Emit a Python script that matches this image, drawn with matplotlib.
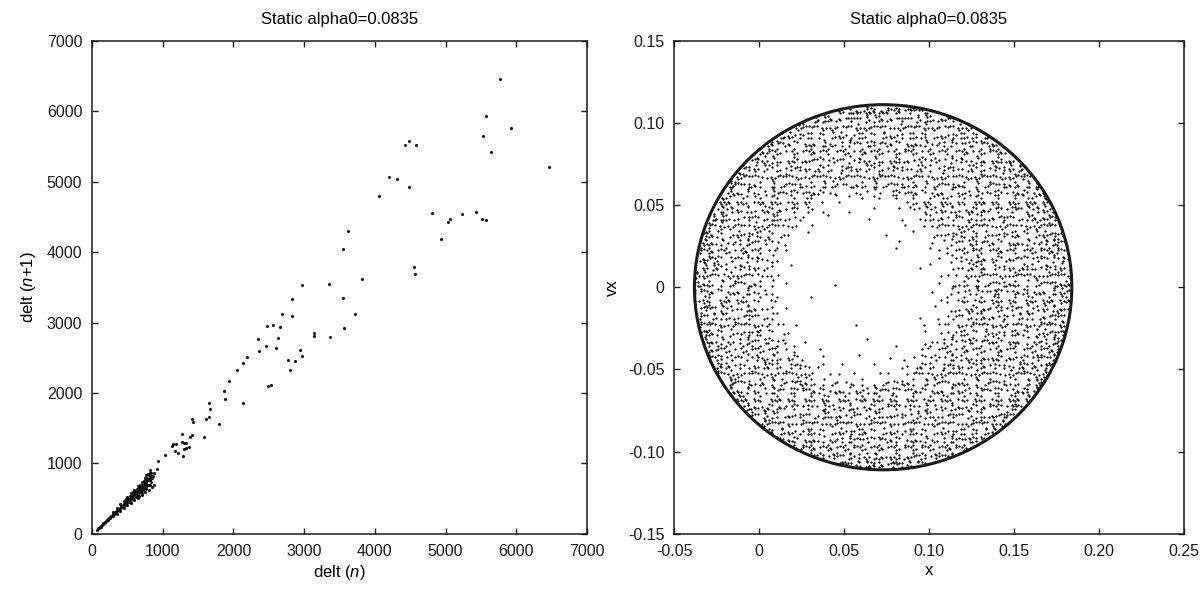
import numpy as np
import matplotlib
matplotlib.use("Agg")
import matplotlib.pyplot as plt
from matplotlib.patches import Circle

plt.rcParams['font.family'] = ['Liberation Sans', 'DejaVu Sans']
plt.rcParams['mathtext.fontset'] = 'custom'
plt.rcParams['mathtext.rm'] = 'Liberation Sans'
plt.rcParams['mathtext.it'] = 'Liberation Sans:italic'

TITLE = "Static alpha0=0.0835"

# ---------------- return map: delt(n+1) against delt(n) ----------------
# dense fan of short intervals near the origin
fan_n = [70, 95, 120, 140, 160, 180, 200, 220, 240, 260, 280, 300, 320, 340, 360,
         380, 400, 410, 430, 450, 460, 480, 500, 510, 530, 550, 560, 580, 600, 610,
         630, 650, 660, 680, 700, 710, 730, 750, 760, 780, 800, 820, 840,
         300, 350, 400, 450, 500, 550, 600, 650, 700, 750, 800, 850, 870,
         300, 350, 400, 450, 500, 550, 600, 650, 700, 750, 800, 830,
         420, 470, 520, 570, 620, 670, 720, 770, 820, 480, 530, 580, 630, 680, 730,
         780, 540, 590, 640, 690, 740, 790, 840, 660, 710, 760, 810, 720, 770, 820,
         860, 790, 760, 850, 820, 880,
         90, 110, 130, 150, 170, 190, 210, 230, 250, 270, 290, 310, 330, 350, 370,
         390, 420, 440, 470, 490, 520, 540, 570, 590, 620, 640, 670, 690,
         590, 640, 690, 740, 790, 560, 610, 660, 710, 760]
fan_n1 = [60, 85, 105, 130, 150, 165, 185, 200, 225, 240, 255, 280, 295, 310, 335,
          350, 365, 390, 400, 420, 440, 450, 470, 495, 500, 520, 545, 550, 570, 600,
          600, 620, 650, 650, 670, 700, 700, 720, 750, 760, 780, 800, 820,
          250, 290, 330, 370, 410, 440, 480, 510, 550, 590, 620, 660, 700,
          310, 365, 420, 470, 525, 580, 630, 685, 740, 790, 840, 870,
          380, 410, 450, 500, 530, 580, 620, 660, 700, 490, 540, 590, 640, 700, 750,
          800, 470, 520, 560, 610, 650, 700, 740, 540, 580, 640, 690, 690, 720, 760,
          820, 850, 830, 800, 860, 860,
          80, 100, 120, 140, 155, 175, 195, 215, 230, 250, 270, 285, 305, 325, 340,
          360, 385, 410, 430, 455, 480, 500, 525, 545, 570, 595, 615, 640,
          580, 610, 680, 700, 760, 500, 540, 600, 640, 690]

# scattered long intervals
spread_n = [4200, 4308, 4054, 3625, 3554, 3813, 3347, 2970, 3554, 2833, 3719, 2692,
            2824, 2479, 2554, 2663, 3558, 3139, 3135, 3370, 2343, 2626, 2456, 2606,
            2357, 2946, 2970, 2196, 2131, 2772, 2871, 2804, 2046, 1941, 2489, 2536,
            1867, 1885, 2135, 1650, 1673, 1418, 1432, 1612, 1659, 1796,
            5769, 5567, 5925, 5524, 4482, 4430, 4586, 5638, 6458, 4478, 4808, 5232,
            5430, 5029, 5058, 5515, 5567, 4931, 4558, 4563,
            1584, 1273, 1145, 1183, 1127, 1277, 1301, 1329, 1390, 1414, 1174, 1220,
            1287, 1296, 1324, 1376, 1037, 933, 919, 825]
spread_n1 = [5062, 5033, 4801, 4295, 4049, 3614, 3543, 3538, 3345, 3335, 3122, 3122,
             3089, 2947, 2966, 2942, 2923, 2848, 2810, 2800, 2762, 2777, 2663, 2639,
             2597, 2611, 2526, 2512, 2431, 2469, 2455, 2323, 2323, 2171, 2104, 2110,
             2025, 1916, 1855, 1863, 1770, 1636, 1594, 1636, 1656, 1565,
             6456, 5936, 5766, 5643, 5577, 5524, 5516, 5421, 5212, 4928, 4551, 4545,
             4574, 4423, 4466, 4466, 4460, 4190, 3793, 3689,
             1381, 1419, 1277, 1277, 1253, 1310, 1287, 1296, 1372, 1405, 1182, 1145,
             1111, 1206, 1216, 1239, 1117, 1036, 922, 908]

left_ticks = [0, 1000, 2000, 3000, 4000, 5000, 6000, 7000]
left_ticklabels = ["0", "1000", "2000", "3000", "4000", "5000", "6000", "7000"]

# ---------------- phase plane: vx against x ----------------
disk_center = (0.073, 0.0)
disk_radius = 0.111
cell = 0.005
grid_x0 = -0.0375     # x at the centre of column 0
grid_y0 = 0.1125      # vx at the centre of row 0

# (row, first column, number of points per cell)
density_rows = [
    (1, 17, "54555555545"),
    (2, 14, "54434343434344345"),
    (3, 12, "543332343332433432345"),
    (4, 10, "5433233423324332342333345"),
    (5, 9, "543233432332433234323323345"),
    (6, 8, "54323343233243323432332342345"),
    (7, 7, "5432334323324332343233234233345"),
    (8, 6, "543233432332433234323323423334345"),
    (9, 5, "54323343233243323432332342333434345"),
    (10, 4, "5433242332343223342332432334232433445"),
    (11, 4, "543324332342" "21121212" "333243233423324345"),
    (12, 3, "54332433234" "110100101011" "3324332343233445"),
    (13, 3, "5433243323" "211" "00100100" "112" "3343233423343445"),
    (14, 2, "5432332432" "21" "001000100010" "12" "332432334323445"),
    (15, 2, "543324332" "21" "0100" "000000" "0010" "12" "323433243234345"),
    (16, 1, "543243323" "21" "010" "0000000100" "010" "22" "33243233423445"),
    (17, 1, "54323432" "21" "100" "000000000010" "001" "12" "3243323432445"),
    (18, 1, "54332432" "21" "10" "00000000000100" "01" "12" "3342343233445"),
    (19, 1, "54323342" "2" "100" "00000000000000" "001" "2" "32433243234345"),
    (20, 1, "5432433" "21" "01" "0000000000000010" "10" "12" "3342332434345"),
    (21, 0, "54324332" "21" "10" "0000000000000000" "01" "11" "3243324332445"),
    (22, 0, "54332423" "22" "01" "0000100000000000" "01" "12" "3423343233445"),
    (23, 0, "54323342" "21" "00" "0000000000000000" "10" "21" "3324323433445"),
    (24, 0, "54234332" "12" "10" "0010000000000000" "01" "22" "3234332433445"),
    (25, 1, "5433243" "21" "01" "0000000000000000" "10" "12" "3342433234345"),
    (26, 1, "54332432" "2" "100" "00000000000001" "001" "2" "33243324323445"),
    (27, 1, "54324332" "12" "01" "00000010000000" "10" "21" "3243342332445"),
    (28, 1, "54332342" "21" "100" "000000000000" "010" "12" "3324332433445"),
    (29, 1, "543324323" "21" "010" "0000010000" "001" "22" "32433423324345"),
    (30, 2, "543234332" "12" "0010" "000000" "0100" "21" "332433243233445"),
    (31, 2, "5433243323" "21" "010001000101" "12" "324332433423445"),
    (32, 3, "5432343324" "211" "01000100" "112" "3324332433243445"),
    (33, 3, "54324332433" "101101001101" "3234332433243445"),
    (34, 4, "543243324332" "21212122" "332433243324323445"),
    (35, 4, "5433243234332423343323423343324332445"),
    (36, 5, "54323432334233243342332343234323445"),
    (37, 6, "543342332433423324332423343234345"),
    (38, 7, "5432433243324233432433243323445"),
    (39, 8, "54332432343324332342433234445"),
    (40, 9, "543243324334233243324332445"),
    (41, 10, "5433423343324332433243445"),
    (42, 12, "544343343343343433445"),
    (43, 14, "54444344434444445"),
    (44, 17, "55555455555"),
]

right_xticks = [-0.05, 0, 0.05, 0.10, 0.15, 0.20, 0.25]
right_xticklabels = ["-0.05", "0", "0.05", "0.10", "0.15", "0.20", "0.25"]
right_yticks = [-0.15, -0.10, -0.05, 0, 0.05, 0.10, 0.15]
right_yticklabels = ["-0.15", "-0.10", "-0.05", "0", "0.05", "0.10", "0.15"]

# sub-cell spots used to place the points counted in each cell
SPOTS = np.array([(-0.36, -0.31), (0.08, 0.37), (0.37, -0.08), (-0.14, 0.10),
                  (0.27, 0.30), (-0.40, 0.33), (0.16, -0.40), (-0.02, -0.14),
                  (0.41, 0.18), (-0.27, -0.02), (0.02, 0.22), (0.22, -0.22)])


def cells_to_points(rows):
    xs, ys = [], []
    n = len(SPOTS)
    for r, c0, digits in rows:
        for j, ch in enumerate(digits):
            c = c0 + j
            # vary which spots a cell uses so neighbouring cells differ
            start = (3 * c * c + 7 * r * r + c * r) % n
            for m in range(int(ch)):
                dx, dy = SPOTS[(start + 5 * m) % n]
                xs.append(grid_x0 + (c + dx) * cell)
                ys.append(grid_y0 - (r + dy) * cell)
    return np.array(xs), np.array(ys)


def style_axes(ax):
    ax.tick_params(direction='in', top=True, right=True, length=4, width=1.0,
                   labelsize=11.5, pad=7, colors='#1a1a1a')
    for s in ax.spines.values():
        s.set_linewidth(1.1)
        s.set_color('#1a1a1a')


fig = plt.figure(figsize=(12, 5.89), dpi=100)
ax1 = fig.add_axes([0.0767, 0.0934, 0.4125, 0.8378])
ax2 = fig.add_axes([0.5617, 0.0934, 0.4250, 0.8378])

# left panel
ax1.scatter(fan_n, fan_n1, s=5, c='#111111', linewidths=0)
ax1.scatter(spread_n, spread_n1, s=5, c='#111111', linewidths=0)
ax1.set_xlim(0, 7000)
ax1.set_ylim(0, 7000)
ax1.set_xticks(left_ticks)
ax1.set_xticklabels(left_ticklabels)
ax1.set_yticks(left_ticks)
ax1.set_yticklabels(left_ticklabels)
ax1.set_xlabel(r"delt ($n$)", fontsize=12, labelpad=3)
ax1.set_ylabel(r"delt ($n$+1)", fontsize=12, labelpad=6)
ax1.set_title(TITLE, fontsize=12, pad=12)
style_axes(ax1)

# right panel
px, py = cells_to_points(density_rows)
clip = Circle(disk_center, disk_radius, transform=ax2.transData)
pts = ax2.scatter(px, py, s=2.8, c='#111111', linewidths=0)
pts.set_clip_path(clip)
ax2.add_patch(Circle(disk_center, disk_radius, fill=False, lw=2.2,
                     ec='#1a1a1a'))
ax2.set_xlim(-0.05, 0.25)
ax2.set_ylim(-0.15, 0.15)
ax2.set_xticks(right_xticks)
ax2.set_xticklabels(right_xticklabels)
ax2.set_yticks(right_yticks)
ax2.set_yticklabels(right_yticklabels)
ax2.set_xlabel("x", fontsize=12, labelpad=3)
ax2.set_ylabel("vx", fontsize=12, labelpad=6)
ax2.set_title(TITLE, fontsize=12, pad=12)
style_axes(ax2)

fig.savefig("out.png", dpi=100, facecolor='white')
